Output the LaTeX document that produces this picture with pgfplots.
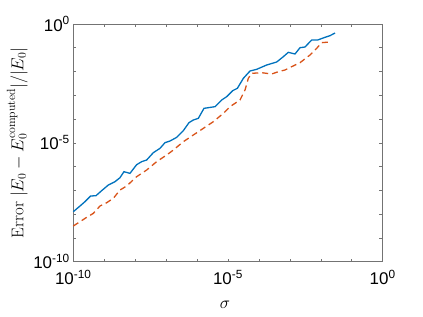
\documentclass[border=0pt]{standalone}
\usepackage{fontspec}
\usepackage{pgfplots}
\usepackage{pgfplotstable}
\pgfplotsset{compat=1.18}
\newfontfamily\hel{Liberation Sans}
\definecolor{mblue}{rgb}{0,0.447,0.741}
\definecolor{morange}{rgb}{0.85,0.325,0.098}
\definecolor{axgray}{gray}{0.45}

\pgfplotstableread{
lx ly
-10.000 -7.896
-9.784 -7.658
-9.623 -7.475
-9.440 -7.237
-9.267 -7.223
-9.084 -7.013
-8.869 -6.774
-8.653 -6.634
-8.491 -6.466
-8.362 -6.213
-8.168 -6.283
-7.953 -5.919
-7.791 -5.792
-7.629 -5.722
-7.414 -5.414
-7.198 -5.231
-7.037 -4.993
-6.875 -4.923
-6.659 -4.769
-6.444 -4.488
-6.261 -4.151
-6.121 -4.039
-5.959 -3.969
-5.776 -3.548
-5.420 -3.478
-5.205 -3.198
-5.043 -3.058
-4.849 -2.805
-4.698 -2.707
-4.504 -2.286
-4.289 -1.978
-4.073 -1.907
-3.750 -1.725
-3.427 -1.599
-3.211 -1.374
-3.050 -1.192
-2.834 -1.262
-2.672 -0.996
-2.511 -0.968
-2.295 -0.673
-2.101 -0.673
-1.864 -0.561
-1.703 -0.491
-1.541 -0.379
}\bluedata

\pgfplotstableread{
lx ly
-10.000 -8.499
-9.784 -8.317
-9.569 -8.135
-9.353 -7.966
-9.138 -7.658
-8.922 -7.518
-8.707 -7.335
-8.491 -6.985
-8.276 -6.816
-7.953 -6.424
-7.629 -6.143
-7.306 -5.792
-6.983 -5.512
-6.767 -5.302
-6.444 -4.951
-6.121 -4.670
-5.797 -4.390
-5.474 -4.109
-5.151 -3.759
-4.935 -3.478
-4.612 -3.198
-4.450 -2.777
-4.343 -2.286
-4.235 -2.076
-3.912 -2.048
-3.588 -2.104
-3.373 -2.006
-3.157 -1.935
-2.942 -1.795
-2.672 -1.627
-2.349 -1.304
-2.134 -1.024
-1.972 -0.785
-1.703 -0.757
}\reddata

\begin{document}
\begin{tikzpicture}
\path[use as bounding box] (-73.3bp,-55.3bp) rectangle (349.7bp,261.7bp);
\begin{axis}[
  at={(0,0)}, anchor=south west,
  xmode=log, ymode=log,
  scale only axis, width=309.4bp, height=237.7bp,
  xmin=1e-10, xmax=1, ymin=1e-10, ymax=1,
  xtick={1e-10,1e-5,1},
  xticklabels={10\textsuperscript{-10},10\textsuperscript{-5},10\textsuperscript{0}},
  ytick={1e-10,1e-5,1},
  yticklabels={10\textsuperscript{-10},10\textsuperscript{-5},10\textsuperscript{0}},
  minor xtick={1e-9,1e-8,1e-7,1e-6,1e-4,1e-3,1e-2,1e-1},
  minor ytick={1e-9,1e-8,1e-7,1e-6,1e-4,1e-3,1e-2,1e-1},
  xtick pos=both, ytick pos=both,
  xticklabel pos=bottom, yticklabel pos=left,
  tick align=inside,
  major tick length=3.2bp, minor tick length=3.2bp,
  axis line style={axgray, line width=0.6pt},
  every tick/.style={axgray, line width=0.6pt},
  tick label style={font=\fontsize{17}{20}\selectfont\hel},
  xticklabel style={yshift=-5bp},
  xlabel={$\sigma$},
  ylabel={Error $|E_0-E_0^{\mathrm{computed}}|/|E_0|$},
  label style={font=\fontsize{17}{20}\selectfont},
  xlabel style={at={([xshift=-3bp,yshift=-43bp]axis description cs:0.5,0)}, anchor=center},
  ylabel style={at={([xshift=-56bp]axis description cs:0,0.5)}, anchor=center},
  clip=false,
]
\addplot[color=mblue, line width=1.3bp] table[x expr={10^(\thisrow{lx})}, y expr={10^(\thisrow{ly})}] {\bluedata};
\addplot[color=morange, line width=1.3bp, dash pattern=on 6bp off 4bp] table[x expr={10^(\thisrow{lx})}, y expr={10^(\thisrow{ly})}] {\reddata};
\end{axis}
\end{tikzpicture}
\end{document}
